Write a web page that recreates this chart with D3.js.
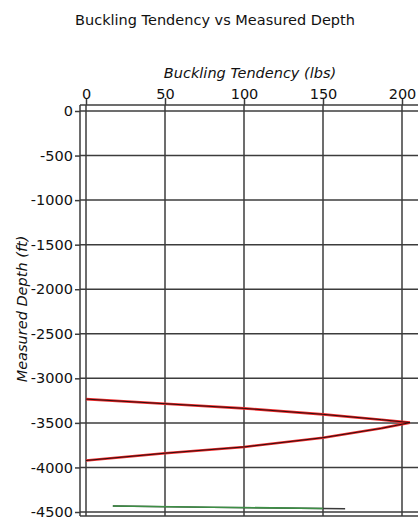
<!DOCTYPE html>
<html>
<head>
<meta charset="utf-8">
<script src="https://cdn.jsdelivr.net/npm/d3@7"></script>
<style>
  body { margin: 0; background: #fff; }
  svg { display: block; font-family: "DejaVu Sans", Verdana, sans-serif; }
</style>
</head>
<body>
<svg id="chart" width="418" height="517"></svg>
<script>
// tick values
var xTicks = [0, 50, 100, 150, 200];
var yTicks = [0, -500, -1000, -1500, -2000, -2500, -3000, -3500, -4000, -4500];

// buckling tendency (lbs) vs measured depth (ft)
var bucklingLbs = [0, 50, 100, 150, 187, 205, 187, 150, 100, 50, 0];
var depthFt = [-3233, -3285, -3337, -3404, -3464, -3497, -3561, -3666, -3770, -3840, -3922];

// short trace near the bottom
var traceLbs = [17, 80, 164];
var traceDepth = [-4432, -4448, -4463];
var greenLbs = [17, 80, 150];
var greenDepth = [-4432, -4446, -4460];

var svg = d3.select('#chart');
var frame = { left: 80, top: 105, right: 430, bottom: 516 };
var fs = 14.5;

var x = d3.scaleLinear().domain([0, 200]).range([86, 402]);
var y = d3.scaleLinear().domain([0, -4500]).range([111, 512]);

// title
svg.append('text')
  .attr('x', 215).attr('y', 25)
  .attr('text-anchor', 'middle')
  .attr('font-size', fs)
  .attr('fill', '#111')
  .text('Buckling Tendency vs Measured Depth');

// axis titles
svg.append('text')
  .attr('x', 250).attr('y', 78)
  .attr('text-anchor', 'middle')
  .attr('font-size', fs)
  .attr('font-style', 'italic')
  .attr('fill', '#111')
  .text('Buckling Tendency (lbs)');

svg.append('text')
  .attr('transform', 'translate(27,309) rotate(-90)')
  .attr('text-anchor', 'middle')
  .attr('font-size', fs)
  .attr('font-style', 'italic')
  .attr('fill', '#111')
  .text('Measured Depth (ft)');

// grid
var grid = svg.append('g').attr('stroke', '#3c3c3c').attr('stroke-width', 1.5);
grid.selectAll('.vg').data(xTicks).join('line')
  .attr('x1', function(d) { return x(d); }).attr('x2', function(d) { return x(d); })
  .attr('y1', frame.top).attr('y2', frame.bottom);
grid.selectAll('.hg').data(yTicks).join('line')
  .attr('x1', frame.left).attr('x2', frame.right)
  .attr('y1', function(d) { return y(d); }).attr('y2', function(d) { return y(d); });

// frame
grid.append('line').attr('x1', frame.left).attr('x2', frame.right).attr('y1', frame.top).attr('y2', frame.top);
grid.append('line').attr('x1', frame.left).attr('x2', frame.left).attr('y1', frame.top).attr('y2', frame.bottom);
grid.append('line').attr('x1', frame.left).attr('x2', frame.right).attr('y1', frame.bottom).attr('y2', frame.bottom);

// axes
var fmt = function(d) { return String(d); };
var xAxis = svg.append('g')
  .attr('transform', 'translate(0,' + frame.top + ')')
  .call(d3.axisTop(x).tickValues(xTicks).tickFormat(fmt).tickSize(7).tickPadding(-1));
var yAxis = svg.append('g')
  .attr('transform', 'translate(' + frame.left + ',0)')
  .call(d3.axisLeft(y).tickValues(yTicks).tickFormat(fmt).tickSize(5).tickPadding(2));

[xAxis, yAxis].forEach(function(a) {
  a.select('.domain').remove();
  a.selectAll('line').attr('stroke', '#3c3c3c').attr('stroke-width', 1.5);
  a.selectAll('text').attr('font-size', fs).attr('fill', '#111')
    .attr('font-family', '"DejaVu Sans", Verdana, sans-serif');
});

// data lines
var line = d3.line()
  .x(function(d) { return x(d[0]); })
  .y(function(d) { return y(d[1]); });

var mainPts = d3.zip(bucklingLbs, depthFt);
svg.append('path').attr('d', line(mainPts))
  .attr('fill', 'none').attr('stroke', '#ee2a2a').attr('stroke-width', 2.6);
svg.append('path').attr('d', line(mainPts))
  .attr('fill', 'none').attr('stroke', '#1a0a0a').attr('stroke-width', 0.9);

svg.append('path').attr('d', line(d3.zip(traceLbs, traceDepth)))
  .attr('fill', 'none').attr('stroke', '#3a3a3a').attr('stroke-width', 1.4);
svg.append('path').attr('d', line(d3.zip(greenLbs, greenDepth)))
  .attr('fill', 'none').attr('stroke', '#3d8f45').attr('stroke-width', 1.6);
</script>
</body>
</html>
